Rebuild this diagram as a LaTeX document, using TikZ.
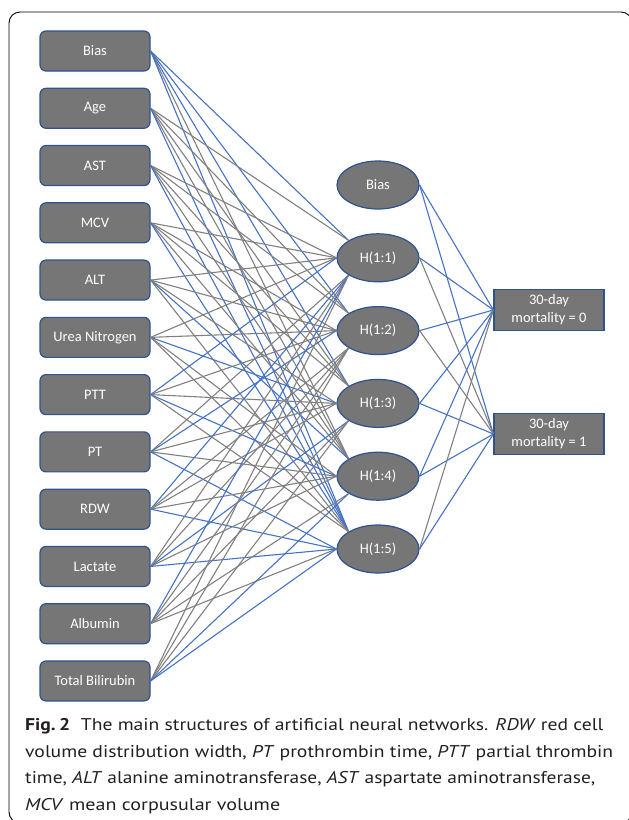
\documentclass[tikz,border=0pt]{standalone}
\usepackage{fontspec}
\setmainfont{Carlito}
\newfontfamily\capfont{PT Sans}
\usetikzlibrary{shapes.geometric}
\definecolor{nodegray}{HTML}{767676}
\definecolor{nodeborder}{HTML}{2F528F}
\definecolor{edgeblue}{HTML}{4472C4}
\definecolor{edgegray}{HTML}{808080}
\definecolor{captext}{HTML}{231F20}
\begin{document}
\begin{tikzpicture}[x=1pt,y=-1pt,
  inbox/.style={draw=nodeborder, line width=1.2pt, fill=nodegray, rounded corners=6pt,
    minimum width=110pt, minimum height=40pt, inner sep=0pt, text=white,
    font=\fontsize{14.5}{17}\selectfont},
  hidnode/.style={ellipse, draw=nodeborder, line width=1.2pt, fill=nodegray,
    minimum width=82pt, minimum height=48pt, inner sep=0pt, text=white,
    font=\fontsize{14.5}{17}\selectfont},
  outbox/.style={draw=nodeborder, line width=1.2pt, fill=nodegray,
    minimum width=110pt, minimum height=41pt, inner sep=0pt, text=white, align=center,
    font=\fontsize{14.5}{18}\selectfont},
  eb/.style={draw=edgeblue, line width=1.1pt},
  eg/.style={draw=edgegray, line width=1.1pt},
  captionline/.style={anchor=base west, inner sep=0pt, text=captext}]
\useasboundingbox (0,0) rectangle (629,820);
\begin{scope}
  \clip (0,0) rectangle (629,820);
  \draw[line width=0.9pt, rounded corners=11pt] (9,12) rectangle (632,823);
\end{scope}
% input nodes
\foreach \n [count=\i from 0] in {Bias,Age,AST,MCV,ALT,Urea Nitrogen,PTT,PT,RDW,Lactate,Albumin,Total Bilirubin}
  \node[inbox] (in\i) at (95,{51+57.27*\i}) {\n};
% hidden nodes
\node[hidnode] (h0) at (378,185) {Bias};
\foreach \k in {1,...,5}
  \node[hidnode] (h\k) at (378,{185+72.8*\k}) {H(1:\k)};
% output nodes
\node[outbox] (o0) at (549,310) {30-day\\mortality = 0};
\node[outbox] (o1) at (549,434) {30-day\\mortality = 1};
% input -> hidden
\foreach \i/\cl in {0/{b,b,b,g,b},1/{g,g,g,g,b},2/{g,g,g,g,b},3/{g,g,g,g,b},
                    4/{g,g,g,b,g},5/{g,g,b,g,g},6/{b,g,g,b,g},7/{g,b,g,g,b},
                    8/{b,g,g,g,b},9/{g,g,b,g,b},10/{b,g,g,g,g},11/{g,g,g,b,b}}{
  \foreach \c [count=\k] in \cl {
    \pgfmathtruncatemacro\code{((185+72.8*\k)-(51+57.27*\i)>140) ? 1 : ((((185+72.8*\k)-(51+57.27*\i))<-140) ? 2 : 0)}
    \ifcase\code \def\anc{west}\or\def\anc{north west}\or\def\anc{south west}\fi
    \draw[e\c] (in\i.east) -- (h\k.\anc);
  }
}
% hidden -> output
\foreach \k/\ca/\cb in {0/b/b,1/b/g,2/b/g,3/b/b,4/b/b,5/g/b}{
  \draw[e\ca] (h\k.east) -- (o0.west);
  \draw[e\cb] (h\k.east) -- (o1.west);
}
% caption
\node[captionline] (cap1) at (25,730) {\resizebox{578pt}{\height}{\capfont\fontsize{17}{20}\selectfont\textbf{Fig.\,2}\hspace{0.55em}The main structures of artificial neural networks. \textit{RDW} red cell}};
\node[captionline] (cap2) at (25,757) {\resizebox{588pt}{\height}{\capfont\fontsize{17}{20}\selectfont volume distribution width, \textit{PT} prothrombin time, \textit{PTT} partial thrombin}};
\node[captionline] (cap3) at (25,783) {\resizebox{570pt}{\height}{\capfont\fontsize{17}{20}\selectfont time, \textit{ALT} alanine aminotransferase, \textit{AST} aspartate aminotransferase,}};
\node[captionline] (cap4) at (25,810) {\resizebox{255pt}{\height}{\capfont\fontsize{17}{20}\selectfont\textit{MCV} mean corpusular volume}};
\end{tikzpicture}
\end{document}
